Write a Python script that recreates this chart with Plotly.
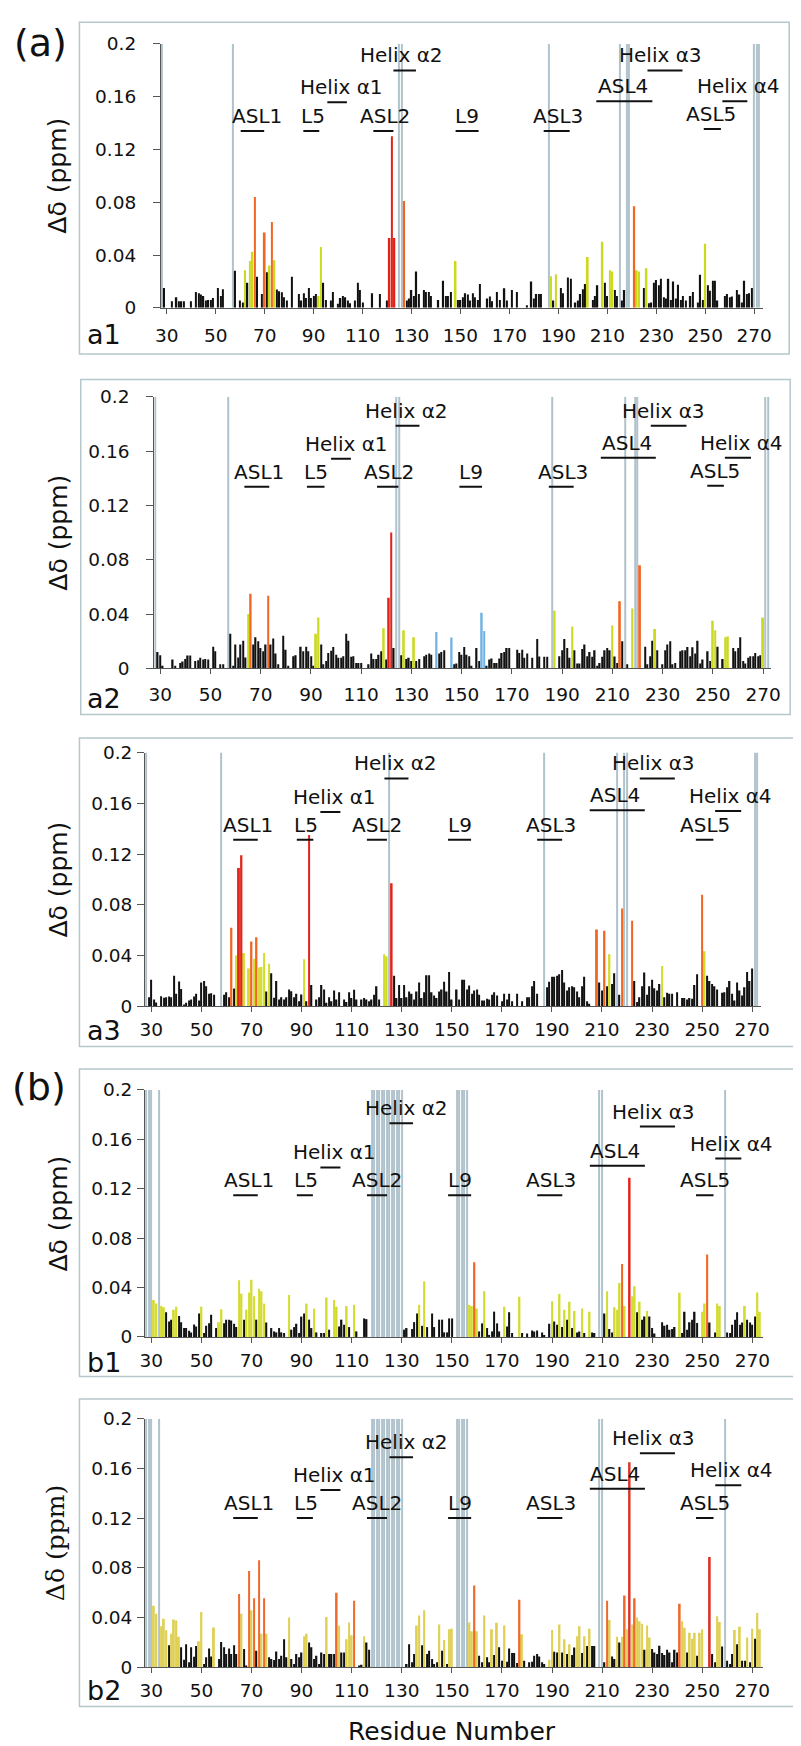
import plotly.graph_objects as go

W, H = 801, 1746

# ---------------------------------------------------------------- data
tick_residues = list(range(30, 271, 20))
tick_ppm = [0, 0.04, 0.08, 0.12, 0.16, 0.2]
tick_ppm_text = ["0", "0.04", "0.08", "0.12", "0.16", "0.2"]
UNASSIGNED_HEIGHT = 0.2

region_names = ["ASL1", "L5", "Helix α1", "ASL2", "Helix α2", "L9", "ASL3",
                "ASL4", "Helix α3", "Helix α4", "ASL5"]

# ---- panel a1
a1_black = {29: .015, 32: .005, 34: .008, 35: .005, 36: .005, 37: .005, 40: .005, 42: .012, 43: .011,
            44: .010, 45: .009, 46: .0055, 47: .006, 48: .006, 49: .0075, 51: .015, 52: .009, 53: .014,
            58: .028, 60: .0055, 61: .004, 63: .019, 67: .0235, 69: .0105, 71: .027, 75: .0138, 76: .0125,
            77: .0118, 78: .008, 79: .0055, 81: .0235, 84: .0105, 85: .0055, 86: .011, 87: .0075, 88: .015,
            89: .0075, 90: .009, 91: .0105, 94: .019, 95: .006, 97: .0055, 98: .012, 100: .003, 101: .0075,
            102: .009, 103: .008, 104: .0055, 105: .0035, 107: .0055, 108: .019, 109: .0135, 110: .004,
            114: .011, 117: .0105, 120: .0055, 128: .0055, 129: .007, 130: .0135, 131: .009, 132: .0275,
            133: .0105, 135: .0135, 136: .012, 137: .012, 138: .009, 141: .006, 143: .0205, 144: .009,
            145: .009, 146: .012, 149: .006, 150: .006, 151: .008, 152: .011, 153: .010, 154: .0055,
            155: .011, 156: .008, 157: .006, 158: .018, 161: .007, 162: .0085, 163: .005, 165: .012,
            166: .006, 168: .0148, 169: .0055, 171: .0135, 173: .012, 177: .002, 179: .020, 180: .007,
            181: .0105, 182: .0105, 183: .0105, 188: .0055, 191: .015, 192: .011, 194: .023, 195: .022,
            197: .004, 198: .0055, 199: .0105, 200: .014, 201: .018, 204: .006, 205: .009, 206: .017,
            209: .019, 210: .009, 213: .0135, 214: .009, 216: .0055, 217: .0135, 225: .015, 227: .0035,
            228: .004, 229: .019, 230: .021, 231: .017, 232: .022, 233: .008, 234: .007, 235: .022,
            236: .006, 237: .020, 238: .007, 239: .0175, 240: .006, 241: .009, 242: .0055, 244: .009,
            245: .012, 247: .004, 248: .025, 249: .006, 251: .017, 252: .013, 253: .0205, 254: .0205,
            255: .0055, 258: .009, 259: .0105, 260: .008, 261: .0085, 263: .0135, 264: .010, 265: .004,
            266: .0205, 267: .0105, 268: .011, 269: .015}
a1_yellow = {62: .0285, 64: .0355, 65: .0425, 72: .032, 74: .036, 92: .009, 93: .046, 148: .0355,
             187: .024, 189: .0255, 202: .0385, 208: .050, 211: .0285, 212: .0275, 222: .0285,
             223: .0275, 226: .030, 250: .0485}
a1_orange = {66: .084, 70: .057, 73: .065, 127: .081, 221: .077}
a1_red = {121: .053, 122: .130, 123: .053}
a1_blue = {}
a1_unassigned = [28, 57, 125, 126, 186, 215, 218, 219, 270, 271, 272]
a1_region_start = [60.2, 85.8, 95.6, 114.4, 122.6, 148.0, 184.0, 205.5, 226.4, 257.0, 249.4]
a1_region_end = [69.8, 92.3, 103.6, 122.6, 131.8, 157.4, 194.6, 228.4, 240.7, 267.2, 256.4]
a1_region_text = [66.8, 89.7, 101.5, 119.0, 126.1, 152.7, 190.0, 216.6, 231.9, 263.6, 252.5]
a1_region_level = [.134, .134, .1558, .134, .180, .134, .134, .1565, .180, .1565, .1355]

# ---- panel a2
a2_black = {29: .012, 30: .0097, 31: .002, 35: .0065, 36: .002, 38: .004, 39: .005, 40: .007, 41: .0095,
            42: .0095, 44: .0055, 45: .006, 46: .0078, 47: .0065, 48: .007, 49: .0065, 51: .016,
            52: .0126, 54: .003, 55: .003, 58: .0255, 59: .002, 60: .0175, 61: .008, 62: .0175, 63: .0204,
            64: .008, 67: .0175, 68: .023, 69: .020, 70: .015, 71: .0126, 72: .0175, 74: .0175, 75: .022,
            76: .011, 77: .003, 79: .024, 80: .0138, 81: .002, 83: .009, 84: .0097, 86: .016, 87: .0126,
            88: .016, 89: .0126, 90: .009, 91: .002, 94: .0175, 95: .003, 96: .0055, 97: .0114, 98: .013,
            99: .0158, 100: .010, 101: .0078, 102: .0078, 103: .009, 104: .0255, 105: .0204, 106: .0085,
            107: .009, 108: .004, 109: .004, 110: .004, 113: .003, 114: .011, 115: .007, 116: .007,
            117: .010, 118: .0126, 120: .0065, 123: .015, 126: .0097, 128: .007, 129: .0078, 130: .0054,
            132: .0054, 133: .007, 135: .009, 136: .010, 137: .011, 138: .010, 141: .011, 142: .012,
            143: .0133, 147: .003, 148: .0036, 149: .012, 150: .010, 151: .0158, 152: .010, 153: .009,
            154: .002, 156: .015, 157: .0054, 160: .002, 161: .0065, 162: .0073, 163: .004, 164: .004,
            165: .0073, 166: .0114, 167: .012, 168: .015, 169: .015, 172: .0138, 173: .0114, 174: .0138,
            175: .0078, 176: .011, 178: .0078, 180: .0216, 181: .0088, 183: .0085, 184: .0085, 189: .009,
            190: .0133, 191: .0216, 192: .015, 193: .0078, 195: .0133, 196: .0036, 197: .0036,
            198: .0143, 199: .0175, 200: .009, 201: .012, 202: .0085, 203: .0133, 204: .002, 205: .004,
            206: .0085, 207: .0133, 208: .015, 209: .0133, 211: .0088, 212: .004, 214: .020, 216: .003,
            223: .016, 224: .003, 225: .009, 226: .0204, 228: .0133, 230: .003, 231: .0133, 232: .0175,
            233: .020, 234: .003, 235: .004, 237: .0126, 238: .0133, 239: .0133, 240: .0158, 241: .009,
            242: .0155, 243: .011, 244: .0204, 245: .0036, 246: .0065, 248: .0126, 249: .0054,
            252: .016, 254: .007, 258: .015, 259: .0126, 260: .015, 261: .023, 262: .0054, 263: .0036,
            264: .0078, 265: .009, 266: .009, 267: .0114, 268: .009, 269: .0097}
a2_yellow = {65: .040, 92: .0255, 93: .0375, 119: .0296, 127: .028, 131: .023, 187: .0424, 194: .0308,
             210: .0315, 218: .044, 227: .029, 250: .035, 251: .028, 255: .023, 256: .0235, 270: .0375}
a2_orange = {66: .055, 73: .0535, 213: .0495, 221: .076}
a2_red = {121: .052, 122: .100}
a2_blue = {140: .0267, 146: .0228, 158: .041, 159: .0276}
a2_unassigned = [28, 57, 124, 125, 186, 215, 219, 220, 271, 272]
a2_region_start = [63.5, 88.4, 98.0, 116.3, 123.7, 149.1, 184.7, 205.4, 225.3, 254.8, 247.8]
a2_region_end = [73.4, 95.4, 105.9, 124.8, 133.2, 158.1, 194.6, 227.3, 239.5, 265.2, 254.4]
a2_region_text = [69.5, 92.0, 104.0, 120.9, 127.9, 153.8, 190.4, 216.0, 230.5, 261.4, 250.8]
a2_region_level = [.1338, .1338, .1544, .1338, .1786, .1338, .1338, .155, .1786, .155, .1345]

# ---- panel a3
a3_black = {29: .0072, 30: .021, 31: .0054, 32: .003, 34: .008, 35: .0067, 36: .0072, 37: .0077,
            38: .0072, 39: .024, 40: .0098, 41: .0196, 42: .0137, 43: .0013, 44: .0028, 45: .0046,
            46: .0054, 47: .0077, 48: .0098, 49: .0046, 50: .0188, 51: .020, 52: .0157, 53: .0098,
            54: .0103, 55: .009, 59: .009, 60: .011, 61: .0072, 63: .014, 76: .0116, 78: .026, 79: .0067,
            80: .020, 81: .0054, 82: .0072, 83: .0054, 84: .0072, 85: .0132, 86: .0119, 87: .0072,
            88: .0098, 89: .0039, 90: .0093, 92: .0039, 94: .0168, 96: .0054, 97: .0072, 98: .0168,
            99: .0132, 100: .0028, 101: .0072, 102: .0039, 103: .0124, 104: .0054, 105: .011, 107: .0054,
            108: .0034, 109: .011, 110: .0065, 111: .013, 112: .0054, 114: .0054, 115: .0065, 116: .0054,
            117: .0039, 118: .0054, 119: .009, 120: .0157, 121: .0054, 127: .024, 128: .0065, 129: .0168,
            130: .0065, 131: .0168, 132: .0072, 133: .0116, 134: .0098, 135: .0054, 136: .0116,
            137: .0188, 138: .0065, 139: .011, 140: .0245, 141: .0245, 142: .011, 143: .0085, 144: .0065,
            145: .0116, 146: .0132, 147: .0194, 148: .0116, 149: .027, 150: .0054, 152: .0132,
            153: .0054, 154: .021, 155: .021, 156: .0132, 157: .0163, 158: .0098, 159: .0124, 160: .0132,
            161: .009, 162: .0046, 163: .0046, 164: .0059, 165: .0054, 166: .009, 167: .011, 168: .0085,
            170: .0039, 171: .0098, 172: .0054, 173: .0098, 174: .0039, 176: .0098, 178: .0039,
            180: .0072, 181: .0072, 182: .0157, 183: .020, 184: .0098, 188: .015, 189: .0194, 190: .0232,
            191: .0232, 192: .024, 193: .0253, 194: .0286, 195: .0188, 196: .0124, 197: .015, 198: .0157,
            199: .015, 200: .0116, 201: .0072, 202: .0157, 203: .0232, 204: .0039, 205: .002, 209: .0188,
            210: .0124, 212: .0157, 214: .0175, 215: .026, 217: .009, 223: .020, 224: .0034, 225: .0072,
            226: .0157, 227: .0266, 228: .009, 229: .0157, 230: .021, 231: .0142, 232: .0124, 233: .0175,
            235: .0072, 236: .0106, 237: .0098, 238: .0098, 240: .0111, 242: .0065, 243: .0065,
            244: .0054, 245: .0065, 246: .0059, 247: .0168, 248: .0253, 252: .024, 253: .020, 254: .0175,
            255: .0157, 256: .0132, 258: .0106, 259: .0111, 260: .015, 261: .020, 262: .0098, 263: .0046,
            264: .0188, 265: .0124, 266: .0085, 267: .015, 268: .027, 269: .020, 270: .0297}
a3_yellow = {64: .040, 67: .042, 69: .0297, 71: .0374, 73: .0305, 74: .031, 75: .042, 77: .0335, 91: .037,
             123: .041, 124: .0395, 213: .041, 234: .0317, 251: .0434}
a3_orange = {62: .062, 70: .051, 72: .0545, 208: .0606, 211: .0596, 218: .077, 222: .0674, 250: .088}
a3_red = {65: .109, 66: .119, 93: .135, 126: .097}
a3_blue = {}
a3_unassigned = [28, 58, 125, 187, 216, 219, 220, 271, 272]
a3_region_start = [62.7, 88.1, 97.5, 116.1, 123.1, 148.5, 184.1, 205.1, 225.1, 255.2, 247.5]
a3_region_end = [72.5, 94.7, 105.5, 124.1, 132.7, 157.7, 194.1, 227.1, 239.1, 265.6, 254.5]
a3_region_text = [68.7, 91.7, 103.1, 120.1, 127.5, 153.1, 189.7, 215.1, 230.7, 261.5, 251.1]
a3_region_level = [.1312, .1312, .1532, .1312, .1796, .1312, .1312, .1545, .1796, .154, .1312]

# ---- panel b1
b1_black = {36: .020, 37: .0125, 38: .014, 41: .017, 42: .012, 43: .0072, 44: .0072, 45: .005, 46: .0037,
            47: .010, 48: .0085, 49: .019, 51: .0032, 52: .009, 53: .011, 54: .018, 56: .0072, 59: .011,
            60: .014, 61: .014, 62: .0133, 63: .0107, 64: .008, 67: .014, 72: .014, 76: .0117, 78: .0072,
            79: .0045, 80: .0037, 81: .0072, 82: .0037, 83: .0032, 86: .0059, 87: .008, 88: .0107,
            89: .0032, 90: .0165, 91: .019, 93: .014, 94: .0072, 96: .0037, 98: .0032, 99: .0032,
            101: .0059, 105: .0085, 106: .014, 107: .0099, 109: .008, 112: .0045, 115: .015, 116: .0144,
            131: .0059, 132: .0072, 134: .0064, 135: .012, 136: .019, 138: .009, 140: .008, 142: .019,
            143: .008, 145: .014, 146: .014, 147: .0037, 148: .0037, 149: .015, 150: .015, 161: .0045,
            162: .011, 164: .0072, 165: .0011, 166: .0045, 167: .0205, 168: .011, 169: .0045, 172: .0085,
            173: .020, 174: .0032, 178: .0032, 180: .0027, 182: .0053, 183: .0045, 184: .0053, 186: .0037,
            187: .0011, 189: .0107, 191: .0125, 192: .0099, 194: .008, 196: .014, 198: .0072, 200: .0037,
            201: .0045, 203: .0032, 206: .0037, 207: .0032, 211: .019, 213: .0064, 214: .0037, 224: .020,
            226: .014, 227: .0165, 229: .0165, 230: .0072, 231: .0027, 234: .012, 235: .009, 236: .0099,
            237: .0059, 238: .0064, 239: .008, 242: .0032, 243: .0205, 244: .0059, 245: .012, 246: .014,
            247: .0205, 248: .0112, 253: .0117, 255: .0037, 260: .0037, 261: .0032, 262: .0099, 263: .014,
            264: .020, 265: .0099, 266: .0117, 268: .014, 269: .0117, 270: .0099, 271: .0165}
b1_yellow = {31: .030, 32: .027, 34: .025, 35: .024, 39: .022, 40: .0245, 50: .0245, 57: .012, 58: .0224,
             65: .046, 66: .035, 68: .022, 69: .036, 70: .0464, 71: .033, 73: .039, 74: .037, 75: .027,
             85: .034, 92: .027, 95: .023, 100: .032, 103: .030, 104: .0245, 108: .025, 111: .026,
             137: .026, 139: .045, 157: .026, 158: .025, 160: .023, 163: .037, 171: .0245, 177: .0325,
             190: .029, 193: .0347, 195: .022, 197: .0285, 199: .021, 202: .023, 205: .0205, 212: .037,
             215: .024, 216: .022, 217: .0437, 219: .025, 222: .033, 223: .041, 225: .0285, 228: .021,
             241: .0357, 250: .0205, 251: .027, 256: .027, 257: .025, 267: .025, 272: .036, 273: .0205}
b1_orange = {159: .0605, 218: .059, 252: .0667}
b1_red = {221: .129}
b1_blue = {}
b1_unassigned = [28, 29, 30, 33] + list(range(118, 131)) + list(range(152, 157)) + [209, 210, 259]
b_region_start = [62.7, 88.1, 97.5, 116.1, 125.1, 148.5, 184.1, 205.1, 225.1, 255.2, 247.5]
b_region_end = [72.5, 94.5, 105.5, 124.1, 134.5, 157.7, 194.1, 227.1, 239.1, 265.6, 254.5]
b_region_text = [69.1, 91.6, 103.1, 120.1, 131.7, 153.1, 189.7, 215.1, 230.7, 261.5, 251.1]
b1_region_level = [.1147, .1147, .1373, .1147, .173, .1147, .1147, .1387, .1704, .1445, .1147]

# ---- panel b2
b2_black = {37: .0177, 42: .016, 43: .006, 44: .0185, 45: .004, 46: .016, 47: .0085, 48: .017, 51: .0026,
            52: .008, 53: .0151, 54: .0087, 57: .0066, 58: .0204, 59: .016, 60: .0106, 61: .0151,
            62: .0106, 63: .0177, 64: .0106, 67: .0146, 68: .0013, 72: .0132, 77: .008, 78: .0066,
            79: .0058, 80: .0127, 81: .0066, 82: .0093, 83: .0225, 84: .008, 86: .0066, 87: .0026,
            88: .0106, 89: .008, 90: .0119, 93: .020, 94: .016, 95: .0066, 96: .0093, 97: .0026, 98: .0119,
            99: .0106, 101: .0106, 102: .0106, 103: .0106, 106: .0119, 107: .0119, 113: .0013, 114: .0019,
            116: .020, 117: .014, 132: .0026, 133: .0185, 134: .004, 135: .0106, 138: .0177, 140: .0106,
            141: .0132, 142: .0066, 143: .0026, 144: .004, 146: .0132, 148: .0026, 161: .0093, 162: .004,
            164: .008, 165: .004, 167: .0098, 169: .016, 170: .0053, 172: .0045, 173: .0151, 174: .0114,
            175: .0114, 176: .0034, 179: .0053, 181: .004, 182: .0045, 183: .0093, 184: .0106, 185: .0087,
            186: .004, 187: .0026, 191: .0124, 192: .0119, 194: .0119, 196: .0106, 198: .0098, 199: .0159,
            202: .0114, 204: .017, 206: .017, 207: .017, 211: .004, 214: .0087, 215: .0066, 217: .020,
            227: .014, 230: .0146, 231: .0119, 232: .0106, 233: .0172, 234: .0114, 235: .0098, 236: .014,
            237: .0119, 238: .004, 239: .014, 240: .0119, 244: .0119, 248: .0093, 254: .0106, 255: .004,
            258: .0167, 260: .0053, 261: .0026, 262: .0106, 264: .0185, 266: .0053, 267: .0053, 269: .004,
            271: .023}
b2_yellow = {31: .0495, 32: .043, 34: .033, 35: .039, 36: .0297, 38: .027, 39: .0384, 40: .0376, 41: .0246,
             49: .021, 50: .0445, 55: .032, 66: .043, 70: .0458, 74: .027, 76: .027, 85: .040, 91: .025,
             92: .027, 100: .0405, 105: .0336, 108: .0225, 109: .036, 110: .0257, 115: .025, 136: .0336,
             137: .0416, 139: .0458, 145: .0344, 147: .022, 149: .0305, 150: .031, 157: .036, 158: .029,
             160: .029, 163: .0416, 166: .0305, 168: .0357, 171: .0336, 178: .0265, 189: .006, 190: .030,
             193: .0344, 195: .0225, 197: .0185, 200: .025, 201: .033, 203: .025, 205: .031, 213: .038,
             216: .0246, 218: .0246, 220: .0305, 222: .0344, 224: .040, 225: .037, 226: .035, 228: .0336,
             229: .024, 242: .037, 243: .0318, 245: .0278, 246: .023, 247: .0278, 249: .0278, 250: .0305,
             256: .041, 257: .0363, 263: .030, 265: .0326, 268: .024, 270: .031, 272: .0437, 273: .0305}
b2_orange = {65: .059, 69: .0774, 71: .0556, 73: .086, 75: .0556, 104: .060, 111: .0535, 159: .0657,
             177: .0543, 212: .0535, 219: .0577, 223: .0556, 241: .051}
b2_red = {221: .165, 253: .0887}
b2_blue = {}
b2_unassigned = [28, 29, 30, 33] + list(range(118, 131)) + list(range(152, 157)) + [209, 210, 259]
b2_region_level = [.120, .120, .1425, .120, .169, .120, .120, .1436, .1722, .1465, .120]

# ---------------------------------------------------------------- layout (pixels)
panels = [
    dict(name="a1", black=a1_black, yellow=a1_yellow, orange=a1_orange, red=a1_red, blue=a1_blue,
         gray=a1_unassigned, rs=a1_region_start, re=a1_region_end, rt=a1_region_text, rl=a1_region_level,
         px=(149.7, 763.3), xr=(27.6, 273.6), py=(25.3, 292.3), box=(66.7, 3.3, 790, 339),
         lab_y=319, ystand=13, xstand=6, ytitle_font="DejaVu Sans", ytitle_x=44.6,
         ycol="#cbd91f", ocol="#f26522", rcol="#e2231a"),
    dict(name="a2", black=a2_black, yellow=a2_yellow, orange=a2_orange, red=a2_red, blue=a2_blue,
         gray=a2_unassigned, rs=a2_region_start, re=a2_region_end, rt=a2_region_text, rl=a2_region_level,
         px=(142.9, 771.8), xr=(27.6, 273.3), py=(382.3, 657.3), box=(68, 365, 791, 704),
         lab_y=687.5, ystand=13, xstand=4, ytitle_font="DejaVu Sans", ytitle_x=45,
         ycol="#cbd91f", ocol="#f26522", rcol="#e2231a"),
    dict(name="a3", black=a3_black, yellow=a3_yellow, orange=a3_orange, red=a3_red, blue=a3_blue,
         gray=a3_unassigned, rs=a3_region_start, re=a3_region_end, rt=a3_region_text, rl=a3_region_level,
         px=(133.6, 761.2), xr=(27.5, 273.5), py=(742.5, 999.3), box=(66.7, 727.7, 797, 1040),
         lab_y=1024, ystand=1, xstand=2, ytitle_font="DejaVu Sans", ytitle_x=45,
         ycol="#d2dc2a", ocol="#f26522", rcol="#e2231a"),
    dict(name="b1", black=b1_black, yellow=b1_yellow, orange=b1_orange, red=b1_red, blue=b1_blue,
         gray=b1_unassigned, rs=b_region_start, re=b_region_end, rt=b_region_text, rl=b1_region_level,
         px=(133.6, 762.9), xr=(27.5, 274.1), py=(1084, 1334), box=(66.7, 1062.7, 796, 1374),
         lab_y=1360, ystand=1, xstand=2, ytitle_font="DejaVu Sans", ytitle_x=45,
         ycol="#d3dc2e", ocol="#f26522", rcol="#e2231a"),
    dict(name="b2", black=b2_black, yellow=b2_yellow, orange=b2_orange, red=b2_red, blue=b2_blue,
         gray=b2_unassigned, rs=b_region_start, re=b_region_end, rt=b_region_text, rl=b2_region_level,
         px=(133.6, 762.9), xr=(27.5, 274.1), py=(1416.7, 1668.3), box=(66.7, 1396.7, 796, 1708),
         lab_y=1692, ystand=1, xstand=2, ytitle_font="DejaVu Serif", ytitle_x=43,
         ycol="#dfd053", ocol="#ef6a2a", rcol="#dd3228"),
]

FONT = "DejaVu Sans"
GRAY_LINE = "#b0c2cb"
BOX_COL = "#b5c7cc"
AX_COL = "#555555"


def fx(px):
    return px / W


def fy(py):
    return 1 - py / H


fig = go.Figure()
shapes = []
annotations = []
layout = {}

for i, p in enumerate(panels, start=1):
    xa = "x" if i == 1 else f"x{i}"
    ya = "y" if i == 1 else f"y{i}"
    xkey = "xaxis" if i == 1 else f"xaxis{i}"
    ykey = "yaxis" if i == 1 else f"yaxis{i}"

    # unassigned residues: full-height gray lines
    fig.add_trace(go.Bar(x=p["gray"], y=[UNASSIGNED_HEIGHT] * len(p["gray"]), width=0.42,
                         marker=dict(color=GRAY_LINE, line=dict(width=0)),
                         xaxis=xa, yaxis=ya, hoverinfo="skip"))
    series = [(p["black"], "#111111", 0.55), (p["yellow"], p["ycol"], 0.72),
              (p["orange"], p["ocol"], 0.72), (p["red"], p["rcol"], 0.72),
              (p["blue"], "#6fb2e3", 0.72)]
    for data, col, wd in series:
        if not data:
            continue
        xs = list(data.keys())
        ys = list(data.values())
        fig.add_trace(go.Bar(x=xs, y=ys, width=wd, marker=dict(color=col, line=dict(width=0)),
                             xaxis=xa, yaxis=ya))

    layout[xkey] = dict(domain=[fx(p["px"][0]), fx(p["px"][1])], range=list(p["xr"]), anchor=ya,
                        tickmode="array", tickvals=tick_residues,
                        ticktext=[str(t) for t in tick_residues],
                        showline=True, linecolor=AX_COL, linewidth=1, ticks="outside", ticklen=5,
                        tickcolor=AX_COL, showgrid=False, zeroline=False,
                        ticklabelstandoff=p["xstand"],
                        tickfont=dict(family=FONT, size=18.5, color="#111111"))
    layout[ykey] = dict(domain=[fy(p["py"][1]), fy(p["py"][0])], range=[0, 0.2], anchor=xa,
                        tickmode="array", tickvals=tick_ppm, ticktext=tick_ppm_text,
                        showline=True, linecolor=AX_COL, linewidth=1, ticks="outside", ticklen=7,
                        tickcolor=AX_COL, showgrid=False, zeroline=False,
                        ticklabelstandoff=p["ystand"],
                        tickfont=dict(family=FONT, size=18.5, color="#111111"))

    # frame around panel
    bx0, by0, bx1, by1 = p["box"]
    shapes.append(dict(type="rect", xref="paper", yref="paper", x0=fx(bx0), x1=fx(bx1),
                       y0=fy(by1), y1=fy(by0), line=dict(color=BOX_COL, width=1.5),
                       fillcolor="rgba(0,0,0,0)", layer="below"))

    # structural regions: underline + label
    for name, s, e, t, lv in zip(region_names, p["rs"], p["re"], p["rt"], p["rl"]):
        shapes.append(dict(type="line", xref=xa, yref=ya, x0=s, x1=e, y0=lv, y1=lv,
                           line=dict(color="#111111", width=2)))
        annotations.append(dict(xref=xa, yref=ya, x=t, y=lv, text=name, showarrow=False,
                                xanchor="center", yanchor="bottom", yshift=1,
                                font=dict(family=FONT, size=20, color="#111111")))

    # panel label
    annotations.append(dict(xref="paper", yref="paper", x=fx(72), y=fy(p["lab_y"]), text=p["name"],
                            showarrow=False, xanchor="left", yanchor="middle",
                            font=dict(family=FONT, size=27, color="#111111")))
    # y-axis title
    ymid = (p["py"][0] + p["py"][1]) / 2
    annotations.append(dict(xref="paper", yref="paper", x=fx(p["ytitle_x"]), y=fy(ymid),
                            text="Δδ (ppm)", textangle=-90, showarrow=False,
                            xanchor="center", yanchor="middle",
                            font=dict(family=p["ytitle_font"], size=25, color="#111111")))

# figure-level labels
annotations.append(dict(xref="paper", yref="paper", x=fx(27), y=fy(24), text="(a)", showarrow=False,
                        xanchor="center", yanchor="middle", font=dict(family=FONT, size=38, color="#111111")))
annotations.append(dict(xref="paper", yref="paper", x=fx(25), y=fy(1081), text="(b)", showarrow=False,
                        xanchor="center", yanchor="middle", font=dict(family=FONT, size=38, color="#111111")))
annotations.append(dict(xref="paper", yref="paper", x=fx(446), y=fy(1733), text="Residue Number",
                        showarrow=False, xanchor="center", yanchor="middle",
                        font=dict(family=FONT, size=25, color="#111111")))

fig.update_layout(width=W, height=H, margin=dict(l=0, r=0, t=0, b=0), paper_bgcolor="white",
                  plot_bgcolor="rgba(0,0,0,0)", showlegend=False, barmode="overlay",
                  shapes=shapes, annotations=annotations, **layout)

fig.write_html("out.html")
